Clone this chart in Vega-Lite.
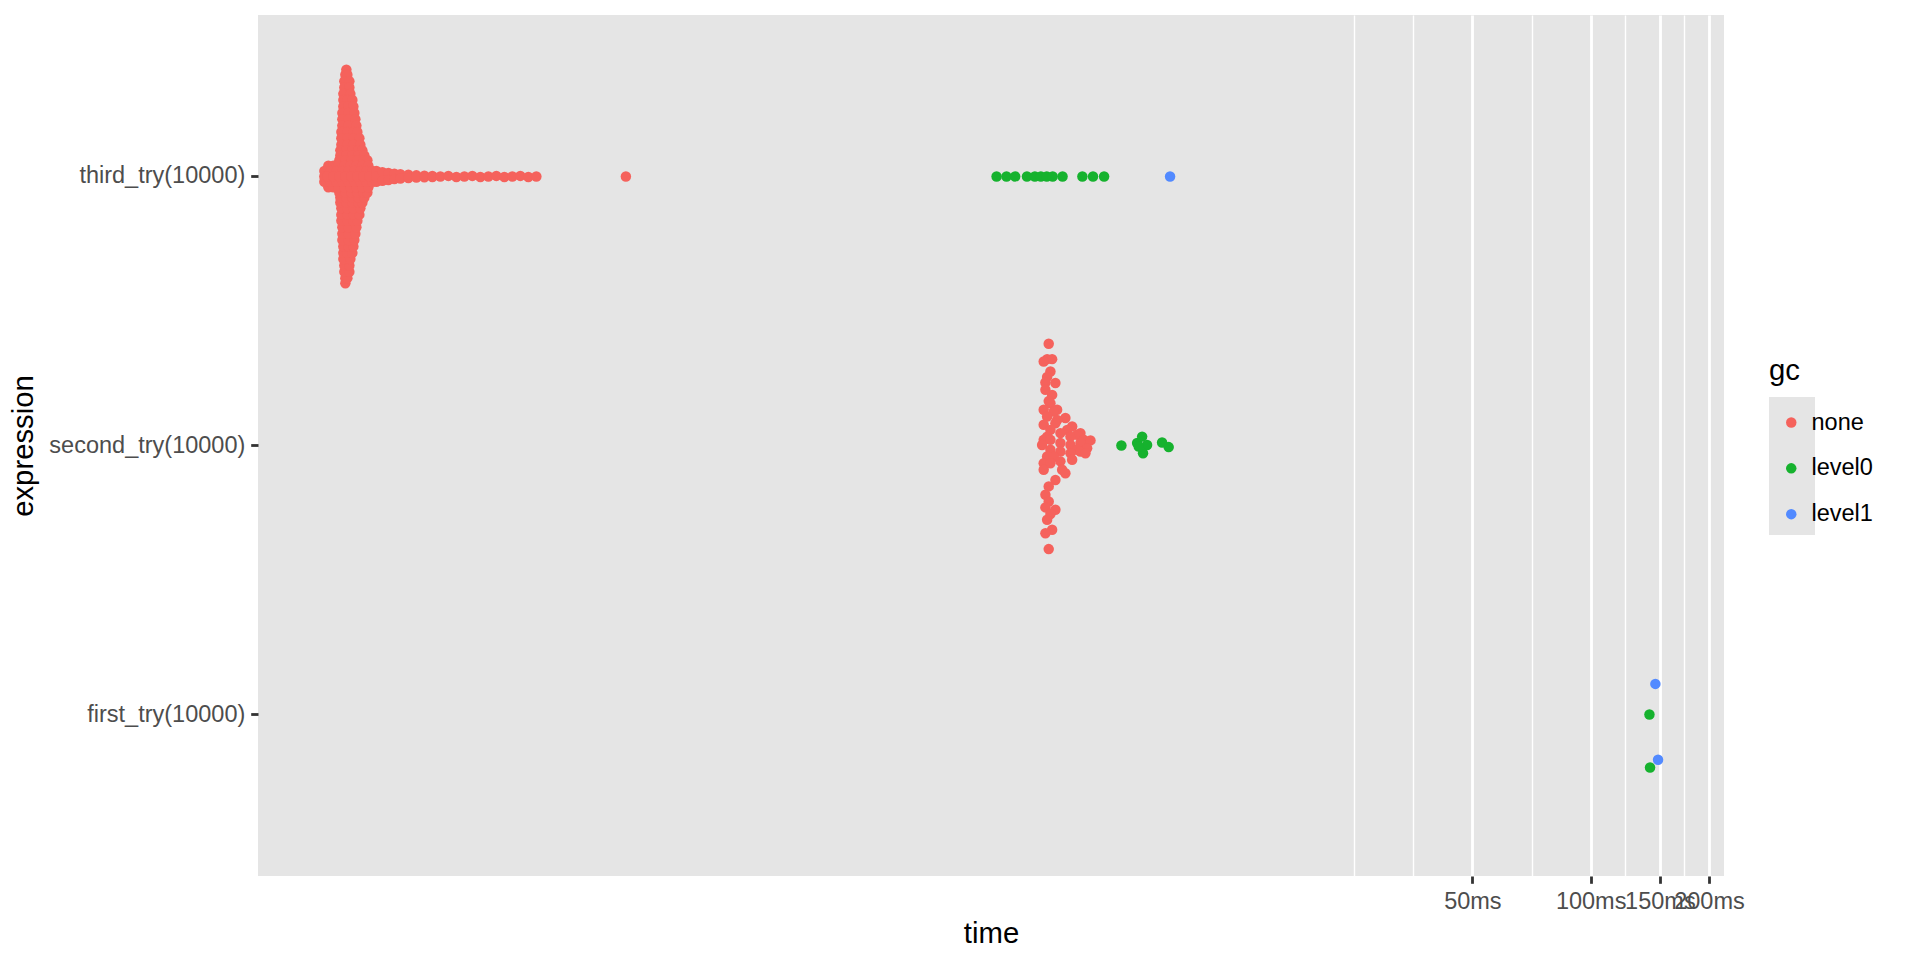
{
"$schema": "https://vega.github.io/schema/vega-lite/v6.json",
"width": 1466, "height": 861,
"autosize": {"type": "none"},
"padding": {"left": 258, "top": 15, "right": 196, "bottom": 84},
"background": "white",
"config": {
  "font": "Liberation Sans",
  "view": {"fill": "#E5E5E5", "stroke": null},
  "axis": {"domain": false, "gridColor": "#FFFFFF", "gridWidth": 2.8, "tickColor": "#333333", "tickWidth": 2.8, "tickSize": 7.3, "labelFontSize": 23.5, "labelColor": "#4D4D4D", "labelPadding": 5.9, "labelLimit": 0, "titleFontSize": 29.3, "titleFontWeight": "normal", "titleColor": "#000000", "labelFont": "Liberation Sans", "titleFont": "Liberation Sans"}
},
"data": {"values": [
{"expression":"third_try(10000)","gc":"none","time":0.06820,"j":0.397},
{"expression":"third_try(10000)","gc":"none","time":0.06780,"j":-0.397},
{"expression":"third_try(10000)","gc":"none","time":0.06780,"j":0.378},
{"expression":"third_try(10000)","gc":"none","time":0.06860,"j":0.378},
{"expression":"third_try(10000)","gc":"none","time":0.06780,"j":-0.378},
{"expression":"third_try(10000)","gc":"none","time":0.06860,"j":-0.378},
{"expression":"third_try(10000)","gc":"none","time":0.06740,"j":0.354},
{"expression":"third_try(10000)","gc":"none","time":0.06941,"j":0.354},
{"expression":"third_try(10000)","gc":"none","time":0.06740,"j":-0.354},
{"expression":"third_try(10000)","gc":"none","time":0.06941,"j":-0.354},
{"expression":"third_try(10000)","gc":"none","time":0.06740,"j":0.331},
{"expression":"third_try(10000)","gc":"none","time":0.06941,"j":0.331},
{"expression":"third_try(10000)","gc":"none","time":0.06740,"j":-0.331},
{"expression":"third_try(10000)","gc":"none","time":0.06941,"j":-0.331},
{"expression":"third_try(10000)","gc":"none","time":0.06701,"j":0.307},
{"expression":"third_try(10000)","gc":"none","time":0.06982,"j":0.307},
{"expression":"third_try(10000)","gc":"none","time":0.06701,"j":-0.307},
{"expression":"third_try(10000)","gc":"none","time":0.06982,"j":-0.307},
{"expression":"third_try(10000)","gc":"none","time":0.06701,"j":0.284},
{"expression":"third_try(10000)","gc":"none","time":0.06860,"j":0.284},
{"expression":"third_try(10000)","gc":"none","time":0.07064,"j":0.284},
{"expression":"third_try(10000)","gc":"none","time":0.06701,"j":-0.284},
{"expression":"third_try(10000)","gc":"none","time":0.06860,"j":-0.284},
{"expression":"third_try(10000)","gc":"none","time":0.07064,"j":-0.284},
{"expression":"third_try(10000)","gc":"none","time":0.06701,"j":0.26},
{"expression":"third_try(10000)","gc":"none","time":0.06900,"j":0.26},
{"expression":"third_try(10000)","gc":"none","time":0.07105,"j":0.26},
{"expression":"third_try(10000)","gc":"none","time":0.06701,"j":-0.26},
{"expression":"third_try(10000)","gc":"none","time":0.06900,"j":-0.26},
{"expression":"third_try(10000)","gc":"none","time":0.07105,"j":-0.26},
{"expression":"third_try(10000)","gc":"none","time":0.06662,"j":0.236},
{"expression":"third_try(10000)","gc":"none","time":0.06900,"j":0.236},
{"expression":"third_try(10000)","gc":"none","time":0.07147,"j":0.236},
{"expression":"third_try(10000)","gc":"none","time":0.06662,"j":-0.236},
{"expression":"third_try(10000)","gc":"none","time":0.06900,"j":-0.236},
{"expression":"third_try(10000)","gc":"none","time":0.07147,"j":-0.236},
{"expression":"third_try(10000)","gc":"none","time":0.06662,"j":0.213},
{"expression":"third_try(10000)","gc":"none","time":0.06900,"j":0.213},
{"expression":"third_try(10000)","gc":"none","time":0.07189,"j":0.213},
{"expression":"third_try(10000)","gc":"none","time":0.06662,"j":-0.213},
{"expression":"third_try(10000)","gc":"none","time":0.06900,"j":-0.213},
{"expression":"third_try(10000)","gc":"none","time":0.07189,"j":-0.213},
{"expression":"third_try(10000)","gc":"none","time":0.06662,"j":0.189},
{"expression":"third_try(10000)","gc":"none","time":0.06900,"j":0.189},
{"expression":"third_try(10000)","gc":"none","time":0.07232,"j":0.189},
{"expression":"third_try(10000)","gc":"none","time":0.06662,"j":-0.189},
{"expression":"third_try(10000)","gc":"none","time":0.06900,"j":-0.189},
{"expression":"third_try(10000)","gc":"none","time":0.07232,"j":-0.189},
{"expression":"third_try(10000)","gc":"none","time":0.06623,"j":0.165},
{"expression":"third_try(10000)","gc":"none","time":0.06860,"j":0.165},
{"expression":"third_try(10000)","gc":"none","time":0.07105,"j":0.165},
{"expression":"third_try(10000)","gc":"none","time":0.07274,"j":0.165},
{"expression":"third_try(10000)","gc":"none","time":0.06623,"j":-0.165},
{"expression":"third_try(10000)","gc":"none","time":0.06860,"j":-0.165},
{"expression":"third_try(10000)","gc":"none","time":0.07105,"j":-0.165},
{"expression":"third_try(10000)","gc":"none","time":0.07274,"j":-0.165},
{"expression":"third_try(10000)","gc":"none","time":0.06623,"j":0.142},
{"expression":"third_try(10000)","gc":"none","time":0.06860,"j":0.142},
{"expression":"third_try(10000)","gc":"none","time":0.07105,"j":0.142},
{"expression":"third_try(10000)","gc":"none","time":0.07360,"j":0.142},
{"expression":"third_try(10000)","gc":"none","time":0.06623,"j":-0.142},
{"expression":"third_try(10000)","gc":"none","time":0.06860,"j":-0.142},
{"expression":"third_try(10000)","gc":"none","time":0.07105,"j":-0.142},
{"expression":"third_try(10000)","gc":"none","time":0.07360,"j":-0.142},
{"expression":"third_try(10000)","gc":"none","time":0.06623,"j":0.118},
{"expression":"third_try(10000)","gc":"none","time":0.06860,"j":0.118},
{"expression":"third_try(10000)","gc":"none","time":0.07105,"j":0.118},
{"expression":"third_try(10000)","gc":"none","time":0.07403,"j":0.118},
{"expression":"third_try(10000)","gc":"none","time":0.06623,"j":-0.118},
{"expression":"third_try(10000)","gc":"none","time":0.06860,"j":-0.118},
{"expression":"third_try(10000)","gc":"none","time":0.07105,"j":-0.118},
{"expression":"third_try(10000)","gc":"none","time":0.07403,"j":-0.118},
{"expression":"third_try(10000)","gc":"none","time":0.06584,"j":0.097},
{"expression":"third_try(10000)","gc":"none","time":0.06820,"j":0.097},
{"expression":"third_try(10000)","gc":"none","time":0.07064,"j":0.097},
{"expression":"third_try(10000)","gc":"none","time":0.07317,"j":0.097},
{"expression":"third_try(10000)","gc":"none","time":0.07490,"j":0.097},
{"expression":"third_try(10000)","gc":"none","time":0.06584,"j":-0.097},
{"expression":"third_try(10000)","gc":"none","time":0.06820,"j":-0.097},
{"expression":"third_try(10000)","gc":"none","time":0.07064,"j":-0.097},
{"expression":"third_try(10000)","gc":"none","time":0.07317,"j":-0.097},
{"expression":"third_try(10000)","gc":"none","time":0.07490,"j":-0.097},
{"expression":"third_try(10000)","gc":"none","time":0.06584,"j":0.078},
{"expression":"third_try(10000)","gc":"none","time":0.06820,"j":0.078},
{"expression":"third_try(10000)","gc":"none","time":0.07064,"j":0.078},
{"expression":"third_try(10000)","gc":"none","time":0.07317,"j":0.078},
{"expression":"third_try(10000)","gc":"none","time":0.07579,"j":0.078},
{"expression":"third_try(10000)","gc":"none","time":0.06584,"j":-0.078},
{"expression":"third_try(10000)","gc":"none","time":0.06820,"j":-0.078},
{"expression":"third_try(10000)","gc":"none","time":0.07064,"j":-0.078},
{"expression":"third_try(10000)","gc":"none","time":0.07317,"j":-0.078},
{"expression":"third_try(10000)","gc":"none","time":0.07579,"j":-0.078},
{"expression":"third_try(10000)","gc":"none","time":0.06546,"j":0.06},
{"expression":"third_try(10000)","gc":"none","time":0.06780,"j":0.06},
{"expression":"third_try(10000)","gc":"none","time":0.07023,"j":0.06},
{"expression":"third_try(10000)","gc":"none","time":0.07274,"j":0.06},
{"expression":"third_try(10000)","gc":"none","time":0.07534,"j":0.06},
{"expression":"third_try(10000)","gc":"none","time":0.07713,"j":0.06},
{"expression":"third_try(10000)","gc":"none","time":0.06546,"j":-0.06},
{"expression":"third_try(10000)","gc":"none","time":0.06780,"j":-0.06},
{"expression":"third_try(10000)","gc":"none","time":0.07023,"j":-0.06},
{"expression":"third_try(10000)","gc":"none","time":0.07274,"j":-0.06},
{"expression":"third_try(10000)","gc":"none","time":0.07534,"j":-0.06},
{"expression":"third_try(10000)","gc":"none","time":0.07713,"j":-0.06},
{"expression":"third_try(10000)","gc":"none","time":0.06137,"j":0.04},
{"expression":"third_try(10000)","gc":"none","time":0.06320,"j":0.04},
{"expression":"third_try(10000)","gc":"none","time":0.06508,"j":0.04},
{"expression":"third_try(10000)","gc":"none","time":0.06740,"j":0.04},
{"expression":"third_try(10000)","gc":"none","time":0.06982,"j":0.04},
{"expression":"third_try(10000)","gc":"none","time":0.07232,"j":0.04},
{"expression":"third_try(10000)","gc":"none","time":0.07490,"j":0.04},
{"expression":"third_try(10000)","gc":"none","time":0.07758,"j":0.04},
{"expression":"third_try(10000)","gc":"none","time":0.06137,"j":-0.04},
{"expression":"third_try(10000)","gc":"none","time":0.06320,"j":-0.04},
{"expression":"third_try(10000)","gc":"none","time":0.06508,"j":-0.04},
{"expression":"third_try(10000)","gc":"none","time":0.06740,"j":-0.04},
{"expression":"third_try(10000)","gc":"none","time":0.06982,"j":-0.04},
{"expression":"third_try(10000)","gc":"none","time":0.07232,"j":-0.04},
{"expression":"third_try(10000)","gc":"none","time":0.07490,"j":-0.04},
{"expression":"third_try(10000)","gc":"none","time":0.07758,"j":-0.04},
{"expression":"third_try(10000)","gc":"none","time":0.05995,"j":0.02},
{"expression":"third_try(10000)","gc":"none","time":0.06210,"j":0.02},
{"expression":"third_try(10000)","gc":"none","time":0.06432,"j":0.02},
{"expression":"third_try(10000)","gc":"none","time":0.06662,"j":0.02},
{"expression":"third_try(10000)","gc":"none","time":0.06900,"j":0.02},
{"expression":"third_try(10000)","gc":"none","time":0.07147,"j":0.02},
{"expression":"third_try(10000)","gc":"none","time":0.07403,"j":0.02},
{"expression":"third_try(10000)","gc":"none","time":0.07668,"j":0.02},
{"expression":"third_try(10000)","gc":"none","time":0.07942,"j":0.02},
{"expression":"third_try(10000)","gc":"none","time":0.05995,"j":-0.02},
{"expression":"third_try(10000)","gc":"none","time":0.06210,"j":-0.02},
{"expression":"third_try(10000)","gc":"none","time":0.06432,"j":-0.02},
{"expression":"third_try(10000)","gc":"none","time":0.06662,"j":-0.02},
{"expression":"third_try(10000)","gc":"none","time":0.06900,"j":-0.02},
{"expression":"third_try(10000)","gc":"none","time":0.07147,"j":-0.02},
{"expression":"third_try(10000)","gc":"none","time":0.07403,"j":-0.02},
{"expression":"third_try(10000)","gc":"none","time":0.07668,"j":-0.02},
{"expression":"third_try(10000)","gc":"none","time":0.07942,"j":-0.02},
{"expression":"third_try(10000)","gc":"none","time":0.05995,"j":0},
{"expression":"third_try(10000)","gc":"none","time":0.06101,"j":0},
{"expression":"third_try(10000)","gc":"none","time":0.06320,"j":0},
{"expression":"third_try(10000)","gc":"none","time":0.06546,"j":0},
{"expression":"third_try(10000)","gc":"none","time":0.06780,"j":0},
{"expression":"third_try(10000)","gc":"none","time":0.07023,"j":0},
{"expression":"third_try(10000)","gc":"none","time":0.07274,"j":0},
{"expression":"third_try(10000)","gc":"none","time":0.07534,"j":0},
{"expression":"third_try(10000)","gc":"none","time":0.07804,"j":0},
{"expression":"third_try(10000)","gc":"none","time":0.08132,"j":0.02},
{"expression":"third_try(10000)","gc":"none","time":0.08132,"j":-0.02},
{"expression":"third_try(10000)","gc":"none","time":0.08132,"j":0},
{"expression":"third_try(10000)","gc":"none","time":0.08423,"j":0.016},
{"expression":"third_try(10000)","gc":"none","time":0.08423,"j":-0.016},
{"expression":"third_try(10000)","gc":"none","time":0.08724,"j":0.013},
{"expression":"third_try(10000)","gc":"none","time":0.08724,"j":-0.013},
{"expression":"third_try(10000)","gc":"none","time":0.09036,"j":0.01},
{"expression":"third_try(10000)","gc":"none","time":0.09036,"j":-0.01},
{"expression":"third_try(10000)","gc":"none","time":0.09359,"j":0.008},
{"expression":"third_try(10000)","gc":"none","time":0.09359,"j":-0.008},
{"expression":"third_try(10000)","gc":"none","time":0.09808,"j":0.006},
{"expression":"third_try(10000)","gc":"none","time":0.09808,"j":-0.006},
{"expression":"third_try(10000)","gc":"none","time":0.10279,"j":0.004},
{"expression":"third_try(10000)","gc":"none","time":0.10279,"j":-0.004},
{"expression":"third_try(10000)","gc":"none","time":0.10772,"j":0.003},
{"expression":"third_try(10000)","gc":"none","time":0.10772,"j":-0.003},
{"expression":"third_try(10000)","gc":"none","time":0.11289,"j":0.002},
{"expression":"third_try(10000)","gc":"none","time":0.11289,"j":-0.002},
{"expression":"third_try(10000)","gc":"none","time":0.11830,"j":0},
{"expression":"third_try(10000)","gc":"none","time":0.12398,"j":0.002},
{"expression":"third_try(10000)","gc":"none","time":0.12993,"j":-0.002},
{"expression":"third_try(10000)","gc":"none","time":0.13616,"j":0},
{"expression":"third_try(10000)","gc":"none","time":0.14269,"j":0.002},
{"expression":"third_try(10000)","gc":"none","time":0.14953,"j":-0.002},
{"expression":"third_try(10000)","gc":"none","time":0.15671,"j":0},
{"expression":"third_try(10000)","gc":"none","time":0.16423,"j":0.002},
{"expression":"third_try(10000)","gc":"none","time":0.17210,"j":-0.002},
{"expression":"third_try(10000)","gc":"none","time":0.18036,"j":0},
{"expression":"third_try(10000)","gc":"none","time":0.18901,"j":0.002},
{"expression":"third_try(10000)","gc":"none","time":0.19807,"j":-0.002},
{"expression":"third_try(10000)","gc":"none","time":0.20758,"j":0},
{"expression":"third_try(10000)","gc":"none","time":0.3508,"j":0},
{"expression":"third_try(10000)","gc":"level0","time":3.078,"j":0},
{"expression":"third_try(10000)","gc":"level0","time":3.262,"j":0},
{"expression":"third_try(10000)","gc":"level0","time":3.432,"j":0},
{"expression":"third_try(10000)","gc":"level0","time":3.678,"j":0},
{"expression":"third_try(10000)","gc":"level0","time":3.852,"j":0},
{"expression":"third_try(10000)","gc":"level0","time":3.990,"j":0},
{"expression":"third_try(10000)","gc":"level0","time":4.130,"j":0},
{"expression":"third_try(10000)","gc":"level0","time":4.276,"j":0},
{"expression":"third_try(10000)","gc":"level0","time":4.531,"j":0},
{"expression":"third_try(10000)","gc":"level0","time":5.089,"j":0},
{"expression":"third_try(10000)","gc":"level0","time":5.416,"j":0},
{"expression":"third_try(10000)","gc":"level0","time":5.779,"j":0},
{"expression":"third_try(10000)","gc":"level1","time":8.507,"j":0},
{"expression":"second_try(10000)","gc":"none","time":4.178,"j":0.378},
{"expression":"second_try(10000)","gc":"none","time":4.139,"j":0.321},
{"expression":"second_try(10000)","gc":"none","time":4.262,"j":0.321},
{"expression":"second_try(10000)","gc":"none","time":4.057,"j":0.312},
{"expression":"second_try(10000)","gc":"none","time":4.220,"j":0.275},
{"expression":"second_try(10000)","gc":"none","time":4.139,"j":0.255},
{"expression":"second_try(10000)","gc":"none","time":4.098,"j":0.234},
{"expression":"second_try(10000)","gc":"none","time":4.345,"j":0.232},
{"expression":"second_try(10000)","gc":"none","time":4.098,"j":0.207},
{"expression":"second_try(10000)","gc":"none","time":4.262,"j":0.188},
{"expression":"second_try(10000)","gc":"none","time":4.178,"j":0.165},
{"expression":"second_try(10000)","gc":"none","time":4.220,"j":0.157},
{"expression":"second_try(10000)","gc":"none","time":4.057,"j":0.133},
{"expression":"second_try(10000)","gc":"none","time":4.389,"j":0.133},
{"expression":"second_try(10000)","gc":"none","time":4.302,"j":0.126},
{"expression":"second_try(10000)","gc":"none","time":4.139,"j":0.108},
{"expression":"second_try(10000)","gc":"none","time":4.607,"j":0.102},
{"expression":"second_try(10000)","gc":"none","time":4.389,"j":0.095},
{"expression":"second_try(10000)","gc":"none","time":4.345,"j":0.083},
{"expression":"second_try(10000)","gc":"none","time":4.057,"j":0.077},
{"expression":"second_try(10000)","gc":"none","time":4.793,"j":0.071},
{"expression":"second_try(10000)","gc":"none","time":4.220,"j":0.058},
{"expression":"second_try(10000)","gc":"none","time":4.655,"j":0.058},
{"expression":"second_try(10000)","gc":"none","time":4.474,"j":0.046},
{"expression":"second_try(10000)","gc":"none","time":5.031,"j":0.046},
{"expression":"second_try(10000)","gc":"none","time":4.935,"j":0.040},
{"expression":"second_try(10000)","gc":"none","time":4.139,"j":0.033},
{"expression":"second_try(10000)","gc":"none","time":4.746,"j":0.033},
{"expression":"second_try(10000)","gc":"none","time":4.057,"j":0.021},
{"expression":"second_try(10000)","gc":"none","time":4.220,"j":0.021},
{"expression":"second_try(10000)","gc":"none","time":5.129,"j":0.021},
{"expression":"second_try(10000)","gc":"none","time":5.336,"j":0.019},
{"expression":"second_try(10000)","gc":"none","time":4.474,"j":0.009},
{"expression":"second_try(10000)","gc":"none","time":5.031,"j":0.009},
{"expression":"second_try(10000)","gc":"none","time":4.019,"j":0.002},
{"expression":"second_try(10000)","gc":"none","time":4.746,"j":0.002},
{"expression":"second_try(10000)","gc":"none","time":5.232,"j":-0.010},
{"expression":"second_try(10000)","gc":"none","time":4.220,"j":-0.016},
{"expression":"second_try(10000)","gc":"none","time":4.935,"j":-0.016},
{"expression":"second_try(10000)","gc":"none","time":4.474,"j":-0.022},
{"expression":"second_try(10000)","gc":"none","time":5.031,"j":-0.022},
{"expression":"second_try(10000)","gc":"none","time":5.181,"j":-0.029},
{"expression":"second_try(10000)","gc":"none","time":4.746,"j":-0.029},
{"expression":"second_try(10000)","gc":"none","time":4.139,"j":-0.041},
{"expression":"second_try(10000)","gc":"none","time":4.302,"j":-0.041},
{"expression":"second_try(10000)","gc":"none","time":4.793,"j":-0.053},
{"expression":"second_try(10000)","gc":"none","time":4.474,"j":-0.059},
{"expression":"second_try(10000)","gc":"none","time":4.057,"j":-0.066},
{"expression":"second_try(10000)","gc":"none","time":4.220,"j":-0.066},
{"expression":"second_try(10000)","gc":"none","time":4.057,"j":-0.090},
{"expression":"second_try(10000)","gc":"none","time":4.520,"j":-0.090},
{"expression":"second_try(10000)","gc":"none","time":4.607,"j":-0.103},
{"expression":"second_try(10000)","gc":"none","time":4.345,"j":-0.128},
{"expression":"second_try(10000)","gc":"none","time":4.178,"j":-0.152},
{"expression":"second_try(10000)","gc":"none","time":4.098,"j":-0.183},
{"expression":"second_try(10000)","gc":"none","time":4.178,"j":-0.208},
{"expression":"second_try(10000)","gc":"none","time":4.098,"j":-0.230},
{"expression":"second_try(10000)","gc":"none","time":4.345,"j":-0.239},
{"expression":"second_try(10000)","gc":"none","time":4.220,"j":-0.255},
{"expression":"second_try(10000)","gc":"none","time":4.139,"j":-0.276},
{"expression":"second_try(10000)","gc":"none","time":4.262,"j":-0.313},
{"expression":"second_try(10000)","gc":"none","time":4.098,"j":-0.326},
{"expression":"second_try(10000)","gc":"none","time":4.178,"j":-0.385},
{"expression":"second_try(10000)","gc":"level0","time":6.396,"j":0},
{"expression":"second_try(10000)","gc":"level0","time":7.013,"j":0.009},
{"expression":"second_try(10000)","gc":"level0","time":7.222,"j":0.033},
{"expression":"second_try(10000)","gc":"level0","time":7.435,"j":0.002},
{"expression":"second_try(10000)","gc":"level0","time":7.26,"j":-0.029},
{"expression":"second_try(10000)","gc":"level0","time":7.08,"j":-0.004},
{"expression":"second_try(10000)","gc":"level0","time":8.118,"j":0.011},
{"expression":"second_try(10000)","gc":"level0","time":8.438,"j":-0.006},
{"expression":"first_try(10000)","gc":"level0","time":141.1,"j":0},
{"expression":"first_try(10000)","gc":"level0","time":141.6,"j":-0.197},
{"expression":"first_try(10000)","gc":"level1","time":146.1,"j":0.114},
{"expression":"first_try(10000)","gc":"level1","time":148.4,"j":-0.168}
]},
"mark": {"type": "circle", "size": 110, "opacity": 1},
"encoding": {
  "x": {"field": "time", "type": "quantitative", "scale": {"type": "log", "domain": [0.04064, 218.4], "nice": false},
    "axis": {"title": "time", "values": [25, 35.355, 50, 70.711, 100, 122.474, 150, 173.205, 200],
      "labelExpr": "indexof([50, 100, 150, 200], datum.value) >= 0 ? datum.value + 'ms' : ''",
      "gridWidth": {"condition": {"test": "indexof([50, 100, 150, 200], datum.value) >= 0", "value": 2.8}, "value": 1.4},
      "tickOpacity": {"condition": {"test": "indexof([50, 100, 150, 200], datum.value) >= 0", "value": 1}, "value": 0},
      "labelOverlap": false, "labelFlush": false, "titlePadding": 7}},
  "y": {"field": "expression", "type": "nominal", "sort": ["third_try(10000)", "second_try(10000)", "first_try(10000)"], "scale": {"type": "band", "paddingInner": 0, "paddingOuter": 0.1}, "axis": {"title": "expression", "bandPosition": 0.5, "titlePadding": 20}},
  "yOffset": {"field": "j", "type": "quantitative", "scale": {"domain": [-0.5, 0.5], "reverse": true}},
  "strokeWidth": {"field": "gc", "type": "nominal", "scale": {"type": "ordinal", "domain": ["level1", "level0", "none"], "range": [0, 0, 0]},
    "legend": {"title": null, "orient": "none", "legendX": 1511, "legendY": 382, "padding": 0, "zindex": 1,
      "values": ["level1", "level0", "none"], "symbolLimit": 10,
      "symbolType": "square", "symbolSize": 2116, "symbolFillColor": "#E5E5E5", "symbolStrokeColor": "#E5E5E5", "symbolOpacity": 1,
      "labelExpr": "''", "labelFontSize": 23.5, "rowPadding": 0}},
  "color": {"field": "gc", "type": "nominal", "scale": {"domain": ["none", "level0", "level1"], "range": ["#F5625C", "#16B22E", "#528AFF"]},
    "legend": {"title": "gc", "orient": "none", "legendX": 1511, "legendY": 342, "padding": 0, "zindex": 2,
      "titleFontSize": 29.3, "titleFontWeight": "normal", "titleColor": "#000000", "titleFont": "Liberation Sans", "titleBaseline": "top", "titlePadding": 24.5,
      "labelFontSize": 23.5, "labelColor": "#000000", "labelFont": "Liberation Sans", "labelOffset": 8.5,
      "symbolType": "circle", "symbolSize": 110, "symbolStrokeWidth": 0, "symbolOffset": 10.5, "rowPadding": 20.8}
  }
}
}
